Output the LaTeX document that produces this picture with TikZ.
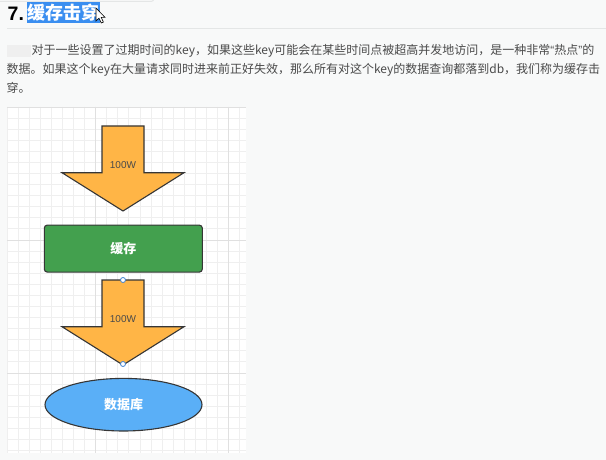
\documentclass[tikz,border=0pt]{standalone}
\usepackage{fontspec}
\setmainfont{Liberation Sans}
\newfontfamily\cjk{Noto Sans CJK SC}
\newfontfamily\latinq{Liberation Sans}
\usetikzlibrary{shapes.geometric}

\definecolor{pagebg}{HTML}{F8F9F9}
\definecolor{gridminor}{HTML}{EFEFEF}
\definecolor{gridmajor}{HTML}{E0E0E0}
\definecolor{arrowfill}{HTML}{FFB546}
\definecolor{cachegreen}{HTML}{43A04E}
\definecolor{dbblue}{HTML}{5AAFF7}
\definecolor{selblue}{HTML}{3A8EF0}
\definecolor{bodygray}{HTML}{4A4A4A}
\definecolor{edgegray}{HTML}{363636}
\definecolor{rulegray}{HTML}{E4E6E6}
\definecolor{handleblue}{HTML}{3C80D0}

\tikzset{
  fatarrow/.style={draw=edgegray, line width=1.1pt, fill=arrowfill, line join=miter},
  flowlabel/.style={font=\fontsize{10}{12}\selectfont, text=edgegray!90, inner sep=0pt},
  cachebox/.style={draw=edgegray, line width=1.1pt, fill=cachegreen, rounded corners=3pt,
    minimum width=158pt, minimum height=47pt, text=white, font=\cjk\bfseries\fontsize{13}{15}\selectfont},
  dbnode/.style={ellipse, draw=edgegray, line width=1.1pt, fill=dbblue, inner sep=0pt,
    minimum width=157pt, minimum height=52.6pt, text=white, font=\cjk\bfseries\fontsize{13}{15}\selectfont},
  handle/.style={circle, draw=handleblue, fill=white, line width=0.8pt, minimum size=5pt, inner sep=0pt},
  bodyline/.style={anchor=west, inner sep=0pt, text=bodygray, font=\cjk\fontsize{12}{14}\selectfont}
}

\begin{document}
\begin{tikzpicture}[x=1pt, y=-1pt]
  \useasboundingbox (0,0) rectangle (606,460);
  \fill[pagebg] (0,0) rectangle (606,460);

  % heading
  \draw[rulegray, line width=1pt, rounded corners=3pt] (0,1.5) -- (154,1.5) -- (154,-6);
  \node[anchor=west, inner sep=0pt, font=\bfseries\fontsize{19.5}{22}\selectfont] (num) at (7.5,14) {7.};
  \fill[selblue] (27,2) rectangle (100,23);
  \node[inner sep=0pt, text=white, font=\cjk\bfseries\fontsize{18}{20}\selectfont] (title) at (63.5,12.5) {缓存击穿};
  \draw[fill=white, line width=0.6pt] (96,8) -- (96,21) -- (99,18.2) -- (101.3,23) -- (103.4,22) -- (101.2,17.4) -- (105,17.4) -- cycle;
  \draw[rulegray, line width=1pt] (7,29) -- (606,29);

  % paragraph
  \fill[gridminor] (7,45) rectangle (31,57);
  \node[bodyline] (lineA) at (31.5,51) {对于一些设置了过期时间的key，如果这些key可能会在某些时间点被超高并发地访问，是一种非常{\latinq “}热点{\latinq ”}的};
  \node[bodyline] (lineB) at (6.5,70) {数据。如果这个key在大量请求同时进来前正好失效，那么所有对这个key的数据查询都落到db，我们称为缓存击};
  \node[bodyline] (lineC) at (6.5,88) {穿。};

  % canvas with grid
  \fill[white] (7,107) rectangle (246,453);
  \foreach \k in {0,...,21} \draw[gridminor, line width=0.8pt] (7+\k*11.08,107) -- (7+\k*11.08,453);
  \foreach \k in {0,...,31} \draw[gridminor, line width=0.8pt] (7,107+\k*11.08) -- (246,107+\k*11.08);
  \foreach \k in {8,20} \draw[gridmajor, line width=0.8pt] (7+\k*11.08,107) -- (7+\k*11.08,453);
  \foreach \k in {0,12,24} \draw[gridmajor, line width=0.8pt] (7,107+\k*11.08) -- (246,107+\k*11.08);

  % flow
  \foreach \t in {126,280}
    \draw[fatarrow] (102,\t) -- (144,\t) -- (144,\t+46.7) -- (184,\t+46.7) -- (123,\t+85)
      -- (62,\t+46.7) -- (102,\t+46.7) -- cycle;
  \node[flowlabel] (flowA) at (123,165) {100W};
  \node[flowlabel] (flowB) at (123,319) {100W};

  \node[cachebox] (cache) at (123.3,248.6) {缓存};
  \node[dbnode] (db) at (123.5,404.7) {数据库};

  \node[handle] (handleA) at (123,280) {};
  \node[handle] (handleB) at (123,364) {};
\end{tikzpicture}
\end{document}
